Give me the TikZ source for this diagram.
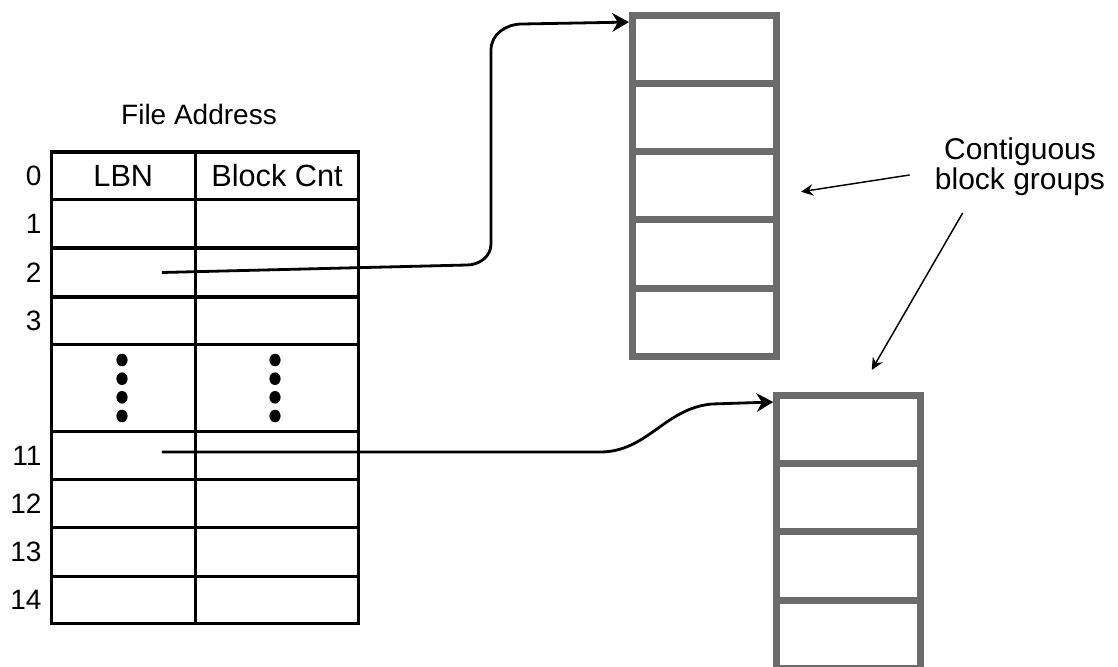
\documentclass[tikz,border=0pt]{standalone}
\usepackage{fontspec}
\setmainfont{Liberation Sans}
\usetikzlibrary{arrows.meta, positioning}
\definecolor{blockgray}{HTML}{6B6B6B}

\begin{document}
\begin{tikzpicture}[
    x=0.75pt, y=0.75pt,
    cell/.style    = {draw, line width=2.4pt, inner sep=0pt,
                      font=\fontsize{23}{26}\selectfont},
    lbncell/.style = {cell, minimum width=108pt},
    cntcell/.style = {cell, minimum width=122.5pt},
    rownum/.style  = {inner sep=0pt, font=\fontsize{21}{24}\selectfont},
    blkcell/.style = {draw=blockgray, line width=5.25pt, inner sep=0pt,
                      minimum width=108pt, minimum height=51.2pt},
    link/.style    = {-{Stealth[length=12.5pt,width=14pt]}, line width=2.1pt},
    note/.style    = {-{Stealth[length=9pt,width=8.5pt]}, line width=1.1pt}
]
\useasboundingbox (0,0) rectangle (1118,-667);

%% ---- File address table ----
\node[anchor=base, font=\fontsize{21}{24}\selectfont] (title) at (199,-125) {File Address};

\node[lbncell, minimum height=35.6pt] (lbn0) at (123.3,-175.8) {LBN};
\node[cntcell, minimum height=35.6pt] (cnt0) at (277,-175.8) {Block Cnt};
\foreach \r/\t/\b in {1/199.5/248, 2/248/297, 3/297/344.5, d/344.5/431.5,
                      11/431.5/479.5, 12/479.5/527.3, 13/527.3/576.3, 14/576.3/623.3} {
    \node[lbncell, minimum height=(\b-\t)*0.75pt] (lbn\r) at (123.3,{-(\t+\b)/2}) {};
    \node[cntcell, minimum height=(\b-\t)*0.75pt] (cnt\r) at (277,{-(\t+\b)/2}) {};
}

%% row numbers
\foreach \r in {0,1,2,3,11,12,13,14}
    \node[rownum, left=6pt of lbn\r.west] (num\r) {\r};

%% vertical dots for the skipped rows
\foreach \y in {360,378.7,397.3,416} {
    \fill (122,-\y) ellipse [x radius=5.6, y radius=6.3];
    \fill (275,-\y) ellipse [x radius=5.6, y radius=6.3];
}

%% ---- Contiguous block groups ----
\foreach \i in {1,...,5}
    \node[blkcell] (up\i) at (704.5,{-49.15-68.3*(\i-1)}) {};
\foreach \i in {1,...,4}
    \node[blkcell] (lo\i) at (848.75,{-429.6-68.2*(\i-1)}) {};

%% ---- Pointers from table entries ----
\draw[link] ([xshift=29pt]lbn2.center) -- (467,-265)
    to[out=0,in=-90] (491,-244) -- (491,-50)
    to[out=90,in=180] (522,-24) -- ([yshift=20.3pt]up1.west);

\draw[link] ([xshift=29pt,yshift=2.6pt]lbn11.center) -- (600,-452)
    to[out=0,in=185] (712,-404) -- ([yshift=20.7pt]lo1.west);

%% ---- Callout ----
\node[align=center, inner sep=0pt, font=\fontsize{22.5}{23}\selectfont]
    (callout) at (1020,-166.7) {Contiguous\\block groups};
\draw[note] ([xshift=-18.75pt,yshift=-6.2pt]callout.west) -- ([xshift=15.75pt,yshift=-4.5pt]up3.east);
\draw[note] ([xshift=21pt,yshift=-12.5pt]callout.south west) -- ([xshift=17.25pt,yshift=16.5pt]lo1.north);

\end{tikzpicture}
\end{document}
